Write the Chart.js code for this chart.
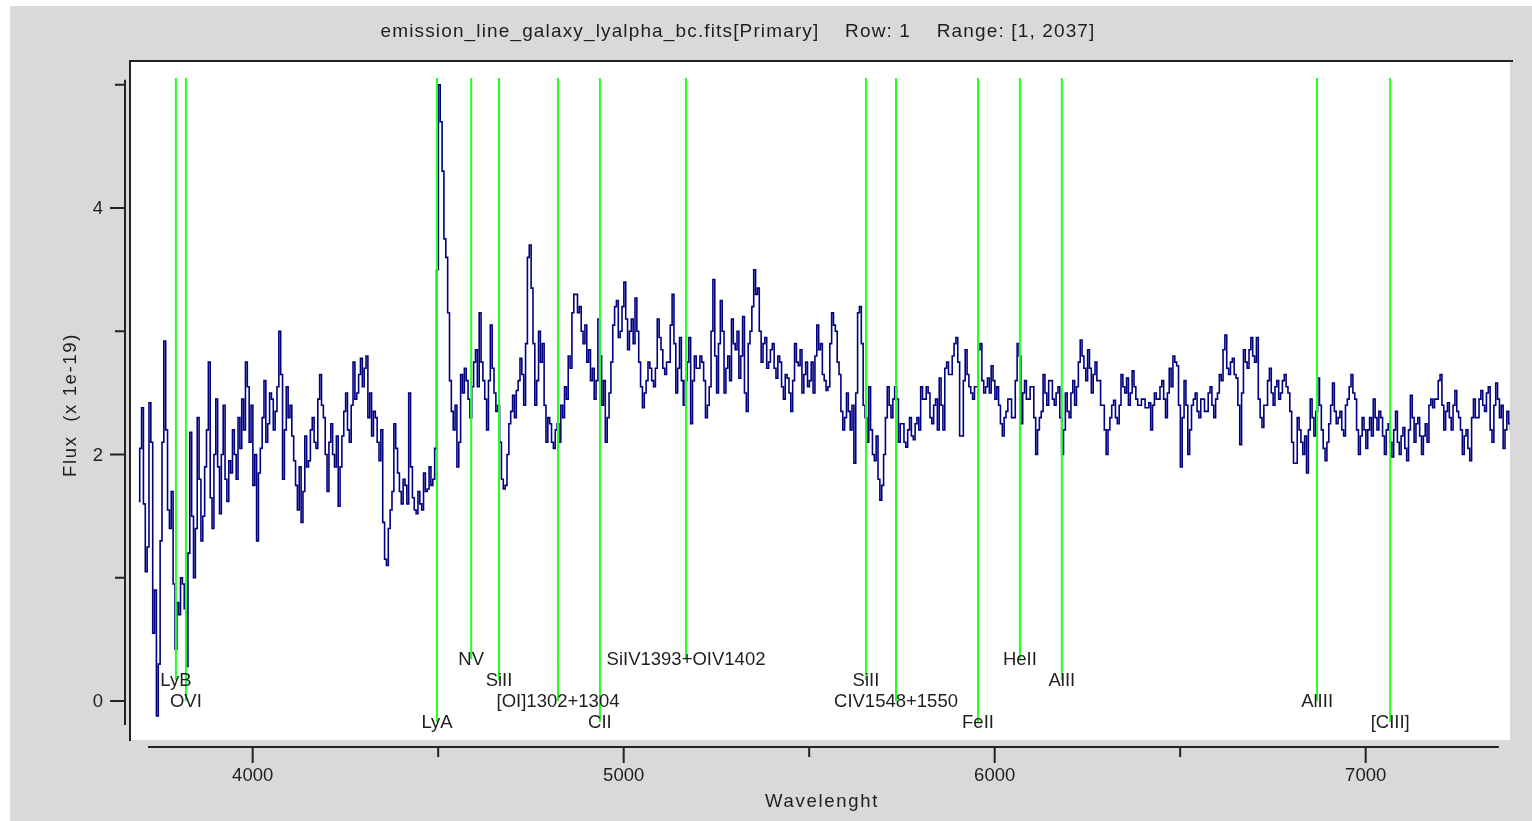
<!DOCTYPE html>
<html>
<head>
<meta charset="utf-8">
<script src="https://cdn.jsdelivr.net/npm/chart.js@4.4.0/dist/chart.umd.min.js"></script>
<style>
  html, body { margin: 0; padding: 0; background: #fff; }
  canvas { display: block; }
</style>
</head>
<body>
<canvas id="spectrum" width="1532" height="821"></canvas>
<script>
// wavelength grid of the sampled spectrum (Angstrom)
const wlStart = 3693;
const wlStep = 5;

const flux = [
  1.62, 2.05, 2.38, 1.6, 1.05, 1.25, 2.42, 2.1, 0.55, 0.9, -0.12, 0.3, 1.3, 2.1, 2.92, 2.2, 1.55, 1.4, 1.7, 0.95,
  0.42, 0.8, 0.7, 1.0, 0.95, 0.75, 0.28, 1.2, 2.18, 1.5, 1.0, 1.4, 2.3, 1.8, 1.3, 1.5, 1.9, 2.2, 2.75, 1.65,
  1.4, 2.0, 2.45, 1.9, 1.52, 2.0, 2.4, 1.8, 1.62, 1.95, 1.85, 2.2, 2.0, 1.8, 2.3, 2.05, 2.45, 2.2, 2.75, 2.55,
  2.1, 2.4, 1.75, 2.0, 1.3, 1.85, 2.05, 2.3, 2.6, 2.1, 2.25, 2.5, 2.45, 2.2, 2.35, 2.55, 3.0, 2.65, 1.8, 2.2,
  2.55, 2.3, 2.4, 2.15, 1.95, 1.75, 1.55, 1.9, 1.45, 1.7, 2.15, 1.9, 1.95, 2.2, 2.3, 2.1, 2.05, 2.45, 2.65, 2.4,
  2.3, 2.0, 1.7, 2.1, 2.25, 2.0, 1.9, 2.15, 1.58, 1.9, 2.15, 2.35, 2.5, 2.2, 2.1, 2.4, 2.75, 2.45, 2.5, 2.65,
  2.78, 2.55, 2.7, 2.8, 2.3, 2.5, 2.15, 2.35, 2.3, 2.1, 1.95, 2.2, 1.45, 1.15, 1.1, 1.4, 1.55, 1.7, 2.25, 2.05,
  1.85, 1.7, 1.6, 1.8, 1.75, 1.6, 2.5, 1.9, 1.65, 1.55, 1.52, 1.7, 1.6, 1.55, 1.85, 1.7, 1.72, 1.9, 1.75, 1.8,
  2.05, 3.5, 5.0, 4.7, 4.3, 3.75, 3.6, 3.15, 2.6, 2.35, 2.2, 2.4, 1.9, 2.1, 2.65, 2.5, 2.7, 2.6, 2.45, 2.3,
  2.55, 2.75, 2.85, 2.55, 3.15, 2.75, 2.6, 2.45, 2.2, 2.6, 3.05, 2.7, 2.5, 2.35, 2.4, 2.1, 1.8, 1.72, 1.75, 2.0,
  2.25, 2.35, 2.48, 2.3, 2.52, 2.6, 2.78, 2.65, 2.4, 2.9, 3.6, 3.7, 3.35, 2.9, 2.4, 2.6, 3.0, 2.75, 2.9, 2.4,
  2.1, 2.3, 2.25, 2.1, 2.05, 2.2, 2.25, 2.1, 2.4, 2.3, 2.55, 2.45, 2.8, 2.7, 3.15, 3.3, 3.3, 3.15, 3.2, 3.0,
  2.9, 3.05, 2.75, 2.85, 2.6, 2.7, 2.45, 2.6, 3.1, 2.8, 2.4, 2.6, 2.1, 2.3, 2.5, 2.75, 3.05, 3.2, 3.25, 2.95,
  3.0, 3.2, 3.4, 3.1, 2.85, 3.0, 3.1, 2.9, 3.27, 3.0, 2.75, 2.55, 2.38, 2.5, 2.6, 2.75, 2.7, 2.6, 2.55, 2.7,
  3.1, 2.95, 2.85, 2.7, 2.65, 2.75, 2.75, 3.05, 3.3, 2.9, 2.5, 2.7, 2.95, 2.6, 2.4, 2.6, 2.75, 2.95, 2.25, 2.6,
  2.8, 2.7, 2.7, 2.8, 2.75, 2.6, 2.3, 2.4, 2.55, 3.0, 3.42, 2.8, 2.5, 2.9, 3.25, 3.0, 2.5, 2.7, 2.8, 2.6,
  3.1, 2.9, 2.85, 3.0, 2.62, 2.8, 3.12, 2.5, 2.35, 2.9, 3.0, 3.2, 3.5, 3.3, 3.35, 3.0, 2.75, 2.9, 2.95, 2.7,
  2.75, 2.85, 2.9, 2.7, 2.62, 2.8, 2.75, 2.55, 2.45, 2.65, 2.62, 2.5, 2.35, 2.6, 2.9, 2.75, 2.72, 2.85, 2.5, 2.65,
  2.75, 2.55, 2.6, 2.75, 2.5, 2.8, 3.05, 2.85, 2.9, 2.65, 2.6, 2.52, 2.55, 2.9, 3.15, 3.05, 3.0, 2.75, 2.65, 2.35,
  2.2, 2.3, 2.5, 2.35, 2.2, 2.4, 1.93, 2.5, 3.15, 3.2, 2.9, 2.4, 2.3, 2.1, 2.55, 2.2, 2.0, 1.95, 2.15, 1.8,
  1.63, 1.75, 2.0, 2.3, 2.55, 2.4, 2.3, 2.45, 2.55, 2.45, 2.1, 2.25, 2.25, 2.1, 2.06, 2.2, 2.3, 2.15, 2.12, 2.25,
  2.3, 2.2, 2.55, 2.45, 2.45, 2.55, 2.5, 2.3, 2.25, 2.4, 2.45, 2.2, 2.62, 2.4, 2.2, 2.7, 2.75, 2.65, 2.65, 2.8,
  2.9, 2.95, 2.75, 2.15, 2.15, 2.6, 2.85, 2.65, 2.55, 2.5, 2.45, 2.55, 2.55, 2.85, 2.9, 2.6, 2.5, 2.55, 2.62, 2.5,
  2.72, 2.6, 2.45, 2.55, 2.4, 2.25, 2.15, 2.3, 2.35, 2.45, 2.45, 2.3, 2.3, 2.6, 2.9, 2.8, 2.25, 2.5, 2.6, 2.45,
  2.45, 2.55, 2.55, 2.3, 2.0, 2.2, 2.3, 2.35, 2.65, 2.5, 2.4, 2.6, 2.6, 2.45, 2.4, 2.5, 2.55, 2.3, 2.0, 2.2,
  2.5, 2.35, 2.3, 2.5, 2.6, 2.4, 2.55, 2.75, 2.93, 2.8, 2.7, 2.6, 2.85, 2.7, 2.5, 2.65, 2.75, 2.6, 2.6, 2.4,
  2.4, 2.2, 2.0, 2.2, 2.3, 2.4, 2.44, 2.3, 2.25, 2.4, 2.65, 2.55, 2.5, 2.62, 2.4, 2.5, 2.68, 2.55, 2.45, 2.4,
  2.4, 2.45, 2.45, 2.38, 2.38, 2.42, 2.2, 2.4, 2.5, 2.45, 2.45, 2.55, 2.6, 2.45, 2.3, 2.5, 2.7, 2.55, 2.8, 2.75,
  2.72, 2.4, 1.9, 2.3, 2.6, 2.4, 2.0, 2.2, 2.4, 2.45, 2.5, 2.35, 2.3, 2.45, 2.45, 2.35, 2.35, 2.5, 2.55, 2.4,
  2.3, 2.45, 2.5, 2.65, 2.6, 2.85, 2.97, 2.7, 2.65, 2.75, 2.78, 2.65, 2.62, 2.4, 2.08, 2.5, 2.85, 2.75, 2.7, 2.85,
  2.95, 2.8, 2.75, 2.95, 2.45, 2.3, 2.22, 2.4, 2.4, 2.6, 2.7, 2.5, 2.4, 2.55, 2.6, 2.45, 2.5, 2.6, 2.65, 2.55,
  2.5, 2.35, 2.1, 1.93, 1.93, 2.3, 2.2, 2.1, 2.0, 2.15, 1.85, 2.2, 2.45, 2.3, 2.15, 2.35, 2.62, 2.4, 2.2, 2.05,
  1.95, 2.1, 2.25, 2.4, 2.58, 2.35, 2.25, 2.3, 2.35, 2.2, 2.15, 2.4, 2.45, 2.55, 2.65, 2.5, 2.45, 2.2, 2.0, 2.15,
  2.3, 2.2, 2.05, 2.2, 2.3, 2.15, 2.45, 2.3, 2.2, 2.35, 2.3, 2.15, 2.0, 2.2, 2.25, 2.1, 1.98, 2.2, 2.35, 2.1,
  2.0, 2.15, 2.22, 2.05, 1.95, 2.2, 2.48, 2.3, 2.1, 2.25, 2.3, 2.15, 2.0, 2.15, 2.25, 2.1, 2.4, 2.45, 2.38, 2.45,
  2.45, 2.6, 2.65, 2.4, 2.2, 2.35, 2.42, 2.3, 2.2, 2.4, 2.52, 2.35, 2.3, 2.2, 2.0, 2.15, 2.2, 2.05, 1.95, 2.3,
  2.45, 2.3, 2.3, 2.45, 2.52, 2.4, 2.35, 2.5, 2.55, 2.2, 2.1, 2.4, 2.58, 2.45, 2.3, 2.4, 2.05, 2.2, 2.35, 2.25,
  2.2
];

// identified lines (observed wavelength) and the height of their labels
const lineNames = ['LyB', 'OVI', 'LyA', 'NV', 'SiII', '[OI]1302+1304', 'CII', 'SiIV1393+OIV1402',
  'SiII', 'CIV1548+1550', 'FeII', 'HeII', 'AlII', 'AlIII', '[CIII]'];
const lineWl = [3793, 3820, 4497, 4589, 4664, 4823, 4936, 5168, 5653, 5734, 5955, 6068, 6181, 6869, 7066];
const labelLevel = [0.17, 0, -0.17, 0.34, 0.17, 0, -0.17, 0.34, 0.17, 0, -0.17, 0.34, 0.17, 0, -0.17];
const lineTop = 5.055;

// axes
const xMajor = [4000, 5000, 6000, 7000];
const xMinor = [4500, 5500, 6500];
const yMajor = [0, 2, 4];
const yMinor = [1, 3, 5];
const xAxisRange = [3718, 7359];
const yAxisRange = [-0.195, 5.04];

const titleText = 'emission_line_galaxy_lyalpha_bc.fits[Primary]    Row: 1    Range: [1, 2037]';
const xTitle = 'Wavelenght';
const yTitle = 'Flux  (x 1e-19)';

const FONT = '"Liberation Sans", Arial, sans-serif';
const INK = '#1e1e1e';

// build the datasets
const specPts = flux.map((v, i) => ({ x: wlStart + i * wlStep, y: v }));
const linePts = [];
lineWl.forEach((wl, i) => {
  linePts.push({ x: wl, y: lineTop }, { x: wl, y: labelLevel[i] }, { x: wl, y: null });
});

// text squeezed/stretched to a given width
function fitText(ctx, text, x, y, width) {
  ctx.letterSpacing = '0px';
  const w = ctx.measureText(text).width;
  ctx.letterSpacing = ((width - w) / text.length) + 'px';
  ctx.fillText(text, x, y);
  ctx.letterSpacing = '0px';
}

const frame = {
  id: 'frame',
  beforeDraw(chart) {
    const { ctx, chartArea: a } = chart;
    ctx.save();
    ctx.fillStyle = '#d9d9d9';
    ctx.fillRect(10, 6, chart.width - 10, chart.height - 6);
    ctx.fillStyle = '#ffffff';
    ctx.fillRect(a.left, a.top, a.right - a.left, a.bottom - a.top);
    ctx.restore();
  },
  afterDatasetsDraw(chart) {
    const { ctx } = chart;
    const xs = chart.scales.x, ys = chart.scales.y;
    ctx.save();
    ctx.fillStyle = INK;
    ctx.font = '18.5px ' + FONT;
    ctx.textAlign = 'center';
    ctx.textBaseline = 'middle';
    lineNames.forEach((name, i) => {
      ctx.fillText(name, xs.getPixelForValue(lineWl[i]), ys.getPixelForValue(labelLevel[i]) + 1);
    });
    ctx.restore();
  },
  afterDraw(chart) {
    const { ctx, chartArea: a } = chart;
    const xs = chart.scales.x, ys = chart.scales.y;
    ctx.save();
    ctx.strokeStyle = '#222';
    ctx.lineWidth = 2;

    // frame of the plot: top and left only
    ctx.beginPath();
    ctx.moveTo(a.left - 1, a.bottom + 1);
    ctx.lineTo(a.left - 1, a.top - 1);
    ctx.lineTo(a.right + 3, a.top - 1);
    ctx.stroke();

    // detached y axis
    const yx = a.left - 6;
    ctx.beginPath();
    ctx.moveTo(yx, ys.getPixelForValue(yAxisRange[1]));
    ctx.lineTo(yx, ys.getPixelForValue(yAxisRange[0]));
    yMajor.forEach(v => { const p = ys.getPixelForValue(v); ctx.moveTo(yx, p); ctx.lineTo(yx - 15, p); });
    yMinor.forEach(v => { const p = ys.getPixelForValue(v); ctx.moveTo(yx, p); ctx.lineTo(yx - 10, p); });

    // detached x axis
    const xy = a.bottom + 7;
    ctx.moveTo(xs.getPixelForValue(xAxisRange[0]), xy);
    ctx.lineTo(xs.getPixelForValue(xAxisRange[1]), xy);
    xMajor.forEach(v => { const p = xs.getPixelForValue(v); ctx.moveTo(p, xy); ctx.lineTo(p, xy + 16); });
    xMinor.forEach(v => { const p = xs.getPixelForValue(v); ctx.moveTo(p, xy); ctx.lineTo(p, xy + 10); });
    ctx.stroke();

    ctx.fillStyle = INK;
    ctx.font = '18.5px ' + FONT;
    ctx.textBaseline = 'middle';
    ctx.textAlign = 'right';
    yMajor.forEach(v => ctx.fillText(String(v), yx - 22, ys.getPixelForValue(v) + 1));
    ctx.textAlign = 'center';
    xMajor.forEach(v => ctx.fillText(String(v), xs.getPixelForValue(v), xy + 29));

    // titles
    ctx.font = '19px ' + FONT;
    fitText(ctx, titleText, 738, 32, 715);
    ctx.font = '18.5px ' + FONT;
    fitText(ctx, xTitle, 822, 802, 114);
    ctx.translate(71, 405);
    ctx.rotate(-Math.PI / 2);
    fitText(ctx, yTitle, 0, 0, 144);
    ctx.restore();
  }
};

new Chart(document.getElementById('spectrum'), {
  type: 'line',
  data: {
    datasets: [
      {
        label: 'lines',
        data: linePts,
        borderColor: '#22ff22',
        borderWidth: 2,
        pointRadius: 0,
        spanGaps: false,
        order: 0
      },
      {
        label: 'flux',
        data: specPts,
        borderColor: '#000080',
        borderWidth: 1.6,
        pointRadius: 0,
        stepped: 'middle',
        order: 1
      }
    ]
  },
  options: {
    responsive: false,
    animation: false,
    devicePixelRatio: 1,
    events: [],
    layout: { padding: { left: 131, top: 62, right: 22, bottom: 81 } },
    plugins: {
      legend: { display: false },
      title: { display: false },
      tooltip: { enabled: false }
    },
    scales: {
      x: { type: 'linear', min: 3672, max: 7389, display: false },
      y: { type: 'linear', min: -0.316, max: 5.185, display: false }
    }
  },
  plugins: [frame]
});
</script>
</body>
</html>
